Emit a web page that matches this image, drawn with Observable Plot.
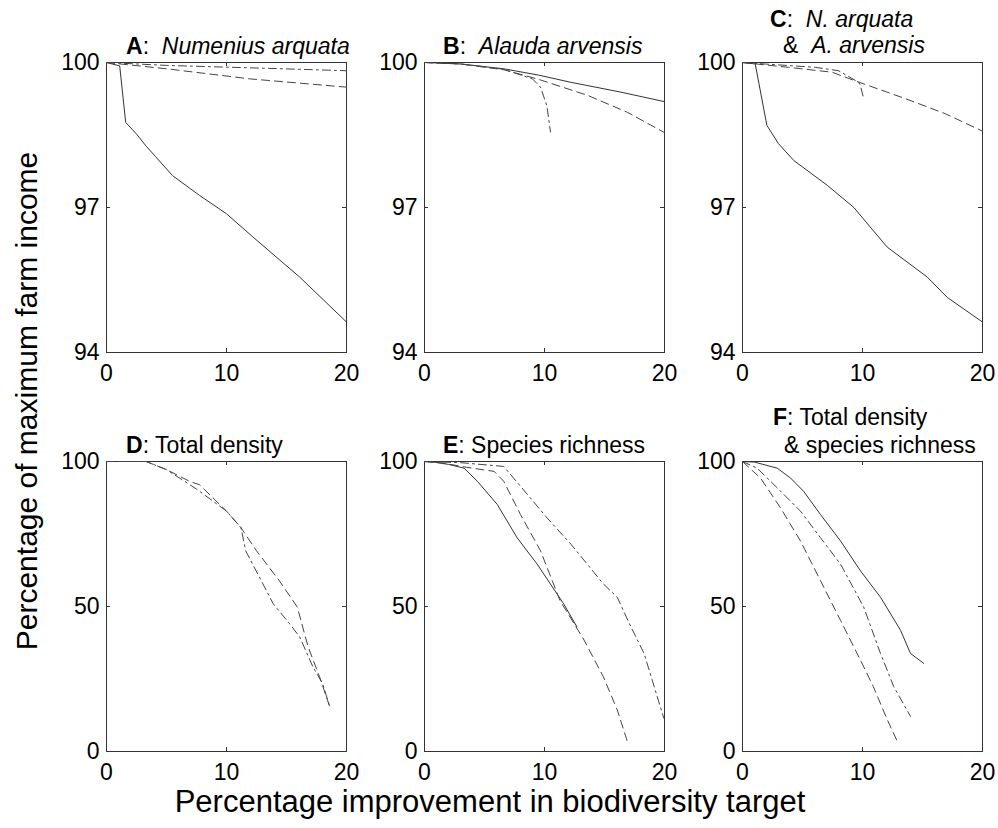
<!DOCTYPE html>
<html><head><meta charset="utf-8">
<script src="https://cdn.jsdelivr.net/npm/d3@7"></script>
<script src="https://cdn.jsdelivr.net/npm/@observablehq/plot@0.6"></script>
<style>
body{margin:0;background:#fff;font-family:Arial,"Liberation Sans",sans-serif;}
#wrap{position:relative;width:998px;height:828px;overflow:hidden;}
.p{position:absolute;}
.t{position:absolute;font-size:23px;line-height:23px;white-space:pre;color:#000;}
.lab{position:absolute;font-size:31px;line-height:31px;white-space:pre;color:#000;}
</style></head><body><div id="wrap"></div><script>
// ---- tick values ----
const xTicks = [0, 10, 20];
const yTicksTop = [94, 97, 100];
const yTicksBottom = [0, 50, 100];

// ---- Panel A: Numenius arquata ----
const A_solid = [[0,100],[1.1,99.93],[1.6,98.76],[2.5,98.52],[3.3,98.27],[4.1,98.05],[5.5,97.66],[7.75,97.25],[10,96.87],[12.2,96.39],[16.1,95.56],[20,94.63]];
const A_dashed = [[0,100],[5,99.87],[12,99.66],[20,99.49]];
const A_dashdot = [[0,100],[5,99.94],[13.3,99.88],[20,99.83]];

// ---- Panel B: Alauda arvensis ----
const B_solid = [[0,100],[3,99.97],[6.6,99.87],[9.5,99.74],[12.2,99.59],[16.3,99.39],[20,99.19]];
const B_dashed = [[0,100],[3,99.97],[6.6,99.85],[9.4,99.66],[13.6,99.32],[16.9,98.97],[20,98.55]];
const B_dashdot = [[0,100],[3,99.97],[6.6,99.86],[9.0,99.66],[9.67,99.49],[10.2,99.1],[10.5,98.56]];

// ---- Panel C: N. arquata & A. arvensis ----
const C_solid = [[0,100],[1.06,99.97],[2.03,98.7],[3.0,98.32],[4.28,97.97],[7.06,97.46],[9.28,97.0],[10.9,96.52],[12.06,96.18],[15.4,95.56],[17.06,95.14],[20,94.63]];
const C_dashed = [[0,100],[3.83,99.9],[7.44,99.8],[9.4,99.62],[13.6,99.25],[16.9,98.94],[20,98.58]];
const C_dashdot = [[0,100],[6.06,99.9],[8.0,99.83],[9.4,99.63],[9.8,99.55],[10.1,99.25]];

// ---- Panel D: Total density ----
const D_solid = [[0,100],[20,100]];
const D_dashed = [[0,100],[3.3,100],[5,97.2],[7.0,93.0],[7.75,92.0],[10,82.9],[11.2,77.2],[12.5,69.2],[14.4,58.9],[15.9,49.8],[16.8,36.1],[17.75,25.8],[18.6,15.5]];
const D_dashdot = [[0,100],[3.3,100],[5,97.2],[7.5,90.5],[10,82.9],[11.2,77.2],[11.6,69.2],[13.9,50.9],[15.25,44.1],[16.1,39.5],[17.2,29.2],[18.0,23.5],[18.6,15.5]];

// ---- Panel E: Species richness ----
const E_solid = [[0,100],[0.9,99.7],[2,99],[3.3,97.7],[4.4,93.2],[6.06,85.2],[7.72,73.7],[9.39,64.6],[11.6,50.9],[12.7,43]];
const E_dashed = [[0,100],[1.5,99.5],[3.5,98],[5.8,96.6],[6.6,93.2],[8.0,81.7],[9.67,69.2],[11.3,52],[13.3,38.4],[14.9,25.8],[16.06,14.4],[16.9,3.5]];
const E_dashdot = [[0,100],[3,99.6],[6.6,98.3],[8.83,87.4],[10.2,80.6],[12.2,71.5],[14.9,57.8],[16.06,53.2],[17.2,43],[18.3,33.8],[19.94,11.5]];

// ---- Panel F: Total density & species richness ----
const F_solid = [[0,100],[1.0,99.8],[2.89,97.7],[4.0,94.3],[5.1,89.7],[6.5,81.7],[8.17,72.6],[9.83,62.3],[11.5,53.2],[13.17,41.8],[14.0,33.8],[15.1,30.4]];
const F_dashed = [[0,100],[1.5,94.3],[3.17,84],[4.83,72.6],[6.5,58.9],[8.17,45.2],[9.83,31.5],[10.9,22.4],[12.06,11],[13.0,2.6]];
const F_dashdot = [[0,100],[1.22,97.7],[2.9,90.9],[4.83,82.9],[6.5,73.7],[8.17,64.6],[10.1,49.8],[11.5,33.8],[12.6,22.4],[14.0,12.1]];

const wrap = document.getElementById("wrap");
const ML = 60, MR = 20, MT = 10, MB = 40, W = 240, H = 290;
const FONT = "Arial, 'Liberation Sans', sans-serif";

function panel(left, top, yDomain, yTicks, solid, dashed, dashdot) {
  const acc = {x: d => d[0], y: d => d[1]};
  const svg = Plot.plot({
    width: ML + W + MR, height: MT + H + MB,
    marginLeft: ML, marginRight: MR, marginTop: MT, marginBottom: MB,
    x: {domain: [0, 20]},
    y: {domain: yDomain},
    style: {fontFamily: FONT, fontSize: "23px", color: "#000", background: "transparent", overflow: "visible"},
    marks: [
      Plot.frame({stroke: "#333", strokeWidth: 1}),
      Plot.ruleX(xTicks, {stroke: "#333", insetTop: H - 4}),
      Plot.ruleX(xTicks, {stroke: "#333", insetBottom: H - 4}),
      Plot.ruleY(yTicks, {stroke: "#333", insetRight: W - 4}),
      Plot.ruleY(yTicks, {stroke: "#333", insetLeft: W - 4}),
      Plot.axisX({ticks: xTicks, tickSize: 0, tickPadding: 12, fontSize: 23, label: null, fill: "#000", tickFormat: d => String(d)}),
      Plot.axisY({ticks: yTicks, tickSize: 0, tickPadding: 7, fontSize: 23, label: null, fill: "#000", tickFormat: d => String(d)}),
      Plot.line(solid, {...acc, stroke: "#333", strokeWidth: 1}),
      Plot.line(dashed, {...acc, stroke: "#444", strokeWidth: 1, strokeDasharray: "8,5"}),
      Plot.line(dashdot, {...acc, stroke: "#444", strokeWidth: 1, strokeDasharray: "8,4,2,4"})
    ]
  });
  svg.classList.add("p");
  svg.style.left = (left - ML) + "px";
  svg.style.top = (top - MT) + "px";
  wrap.appendChild(svg);
}

panel(106, 62, [94, 100], yTicksTop, A_solid, A_dashed, A_dashdot);
panel(424, 62, [94, 100], yTicksTop, B_solid, B_dashed, B_dashdot);
panel(742, 62, [94, 100], yTicksTop, C_solid, C_dashed, C_dashdot);
panel(106, 461, [0, 100], yTicksBottom, D_solid, D_dashed, D_dashdot);
panel(424, 461, [0, 100], yTicksBottom, E_solid, E_dashed, E_dashdot);
panel(742, 461, [0, 100], yTicksBottom, F_solid, F_dashed, F_dashdot);

function title(left, baseline, html) {
  const d = document.createElement("div");
  d.className = "t";
  d.style.left = left + "px";
  d.style.top = (baseline - 19.5) + "px";
  d.innerHTML = html;
  wrap.appendChild(d);
}
title(126, 54, "<b>A</b>:  <i>Numenius arquata</i>");
title(443, 54, "<b>B</b>:  <i>Alauda arvensis</i>");
title(770, 27, "<b>C</b>:  <i>N. arquata</i>");
title(783, 53, "&amp;  <i>A. arvensis</i>");
title(126, 453, "<b>D</b>: Total density");
title(443, 453, "<b>E</b>: Species richness");
title(773, 425, "<b>F</b>: Total density");
title(784, 453, "&amp; species richness");

const yl = document.createElement("div");
yl.className = "lab";
yl.style.fontSize = "30px";
yl.textContent = "Percentage of maximum farm income";
yl.style.left = "26px"; yl.style.top = "401px";
yl.style.transform = "translate(-50%,-50%) rotate(-90deg)";
wrap.appendChild(yl);

const xl = document.createElement("div");
xl.className = "lab";
xl.textContent = "Percentage improvement in biodiversity target";
xl.style.left = "490px"; xl.style.top = (812 - 26.2) + "px";
xl.style.transform = "translateX(-50%)";
wrap.appendChild(xl);
</script></body></html>
